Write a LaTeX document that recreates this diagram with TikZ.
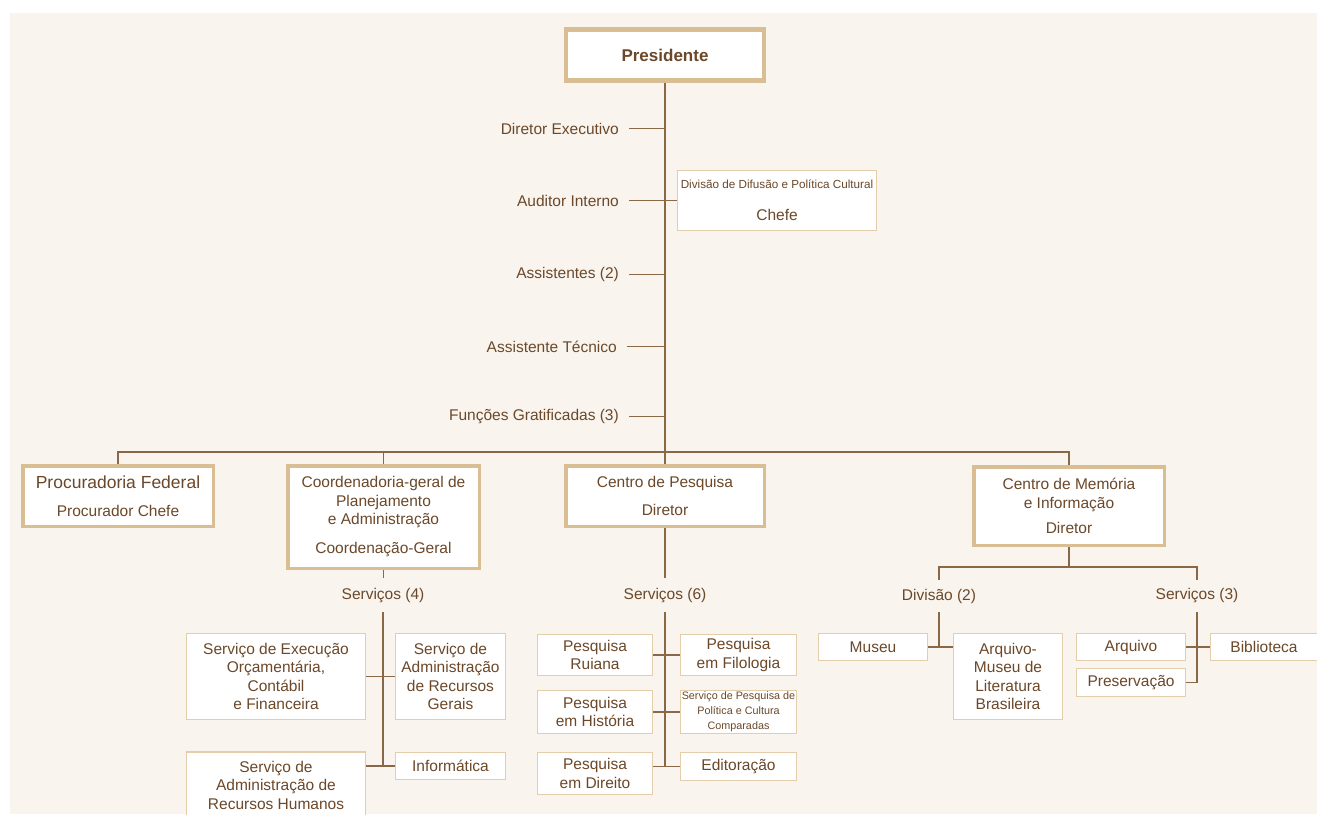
\documentclass[tikz,border=0pt]{standalone}
\usepackage{fontspec}
\setmainfont{Liberation Sans}
\definecolor{bgc}{HTML}{F9F5EE}
\definecolor{tanc}{HTML}{D9BD93}
\definecolor{tanl}{HTML}{E3CDAA}
\definecolor{lnc}{HTML}{8A6845}
\definecolor{txt}{HTML}{6B4829}
\begin{document}
\begin{tikzpicture}[x=1pt,y=-1pt,
  conn/.style={draw=lnc, line width=1.7pt},
  bigbox/.style={draw=tanc, line width=3.5pt, fill=white, inner sep=0pt, align=center, text=txt, font=\fontsize{15.5}{18.5}\selectfont},
  smallbox/.style={draw=tanl, line width=1.3pt, fill=white, inner sep=0pt, align=center, text=txt, font=\fontsize{15.5}{18.5}\selectfont},
  presbox/.style={draw=tanc, line width=4.5pt, fill=white, inner sep=0pt, text=txt, font=\fontsize{17}{20}\selectfont\bfseries},
  lbl/.style={inner sep=0pt, text=txt, font=\fontsize{15.5}{18.5}\selectfont}]
\useasboundingbox (0,0) rectangle (1317,814);
\clip (0,0) rectangle (1317,814);
\fill[white] (0,0) rectangle (1317,814);
\fill[bgc] (10,13) rectangle (1317,814);
\coordinate (bus) at (0,452);

% top
\node[presbox, minimum width=198pt, minimum height=51pt] (pres) at (665,55) {Presidente};
\draw[tanc, line width=1pt] ([xshift=3.6pt,yshift=-3.6pt]pres.north west) rectangle ([xshift=-3.6pt,yshift=3.6pt]pres.south east);

\node[smallbox, minimum width=198.7pt, minimum height=59.7pt] (difusao) at (777,200.5)
  {{\fontsize{11.7}{14}\selectfont Divisão de Difusão e Política Cultural}\\[14pt] Chefe};

\node[lbl, anchor=east] (dexec) at (619,128.5) {Diretor Executivo};
\node[lbl, anchor=east] (audit) at (619,200.5) {Auditor Interno};
\node[lbl, anchor=east] (assis) at (619,274.5) {Assistentes (2)};
\node[lbl, anchor=east] (atec) at (617,346.5) {Assistente Técnico};
\node[lbl, anchor=east] (funcg) at (619,416.5) {Funções Gratificadas (3)};

% level 2
\node[bigbox, minimum width=190.5pt, minimum height=60.5pt] (proc) at (118,496)
  {{\fontsize{17.5}{21}\selectfont Procuradoria Federal}\\[9pt] Procurador Chefe};
\node[bigbox, minimum width=191.5pt, minimum height=102.5pt] (coord) at (383.5,517)
  {Coordenadoria-geral de\\ Planejamento\\ e Administração\\[10.5pt] Coordenação-Geral};
\node[bigbox, minimum width=198.5pt, minimum height=60.5pt] (cpesq) at (665,496)
  {Centro de Pesquisa\\[9.5pt] Diretor};
\node[bigbox, minimum width=190.5pt, minimum height=78.5pt] (cmem) at (1069,506)
  {Centro de Memória\\ e Informação\\[6.5pt] Diretor};

% connectors top
\draw[conn] (pres.south) -- (cpesq.north);
\foreach \n in {dexec,audit,assis,atec,funcg} {
  \draw[conn] ([xshift=10pt]\n.east) -- (\n.east -| pres.south);
}
\draw[conn] (pres.south |- audit.east) -- (difusao.west);
\draw[conn] (proc.north) -- (proc.north |- bus) -- (cmem.north |- bus) -- (cmem.north);
\draw[conn] (coord.north) -- (coord.north |- bus);

% Coordenadoria services
\node[lbl] (serv4) at (383,596) {Serviços (4)};
\node[smallbox, minimum width=178.7pt, minimum height=85.7pt] (seo) at (276,676.5)
  {Serviço de Execução\\ Orçamentária,\\ Contábil\\ e Financeira};
\node[smallbox, minimum width=109.7pt, minimum height=85.7pt] (sarg) at (450.5,676.5)
  {Serviço de\\ Administração\\ de Recursos\\ Gerais};
\node[smallbox, minimum width=178.7pt, minimum height=66pt] (sarh) at (276,785)
  {Serviço de\\ Administração de\\ Recursos Humanos};
\node[smallbox, minimum width=109.7pt, minimum height=26.7pt] (info) at (450.5,766)
  {Informática};
\draw[conn] (coord.south) -- ++(0,8);
\draw[conn] ([yshift=-9pt]serv4.south) -- (serv4.south |- info.west);
\draw[conn] (seo.east) -- (sarg.west);
\draw[conn] (info.west) -- (info.west -| sarh.east);

% Centro de Pesquisa services
\node[lbl] (serv6) at (665,596) {Serviços (6)};
\node[smallbox, minimum width=114.7pt, minimum height=40.7pt] (pruiana) at (595,655) {Pesquisa\\ Ruiana};
\node[smallbox, minimum width=115.7pt, minimum height=40.7pt] (pfilo) at (738.5,655) {Pesquisa\\ em Filologia};
\node[smallbox, minimum width=114.7pt, minimum height=42.7pt] (phist) at (595,712) {Pesquisa\\ em História};
\node[smallbox, minimum width=115.7pt, minimum height=42.7pt, font=\fontsize{10.8}{15}\selectfont] (spp) at (738.5,712)
  {Serviço de Pesquisa de\\ Política e Cultura\\ Comparadas};
\node[smallbox, minimum width=114.7pt, minimum height=41.7pt] (pdir) at (595,773.5) {Pesquisa\\ em Direito};
\node[smallbox, minimum width=115.7pt, minimum height=27.7pt] (edit) at (738.5,766.5) {Editoração};
\draw[conn] (cpesq.south) -- ++(0,50);
\draw[conn] ([yshift=-9pt]serv6.south) -- (serv6.south |- edit.west);
\draw[conn] (pruiana.east) -- (pfilo.west);
\draw[conn] (phist.east) -- (spp.west);
\draw[conn] (edit.west) -- (edit.west -| pdir.east);

% Centro de Memória
\node[lbl] (div2) at (939,596) {Divisão (2)};
\node[lbl] (serv3) at (1197,596) {Serviços (3)};
\coordinate (mbus) at (0,567);
\draw[conn] (cmem.south) -- (cmem.south |- mbus);
\draw[conn] ([yshift=9pt]div2.north) -- (div2.north |- mbus) -- (serv3.north |- mbus) -- ([yshift=9pt]serv3.north);

\node[smallbox, minimum width=108.7pt, minimum height=26.7pt] (museu) at (873,647) {Museu};
\node[smallbox, minimum width=108.7pt, minimum height=85.7pt] (amlb) at (1008,676.5)
  {Arquivo-\\ Museu de\\ Literatura\\ Brasileira};
\draw[conn] ([yshift=-9pt]div2.south) -- (div2.south |- museu.east);
\draw[conn] (museu.east) -- (museu.east -| amlb.west);

\node[smallbox, minimum width=108.7pt, minimum height=26.7pt] (arquivo) at (1131,647) {Arquivo};
\node[smallbox, minimum width=106.7pt, minimum height=26.7pt] (biblio) at (1264,647) {Biblioteca};
\node[smallbox, minimum width=108.7pt, minimum height=27.7pt] (preserv) at (1131,682.5) {Preservação};
\draw[conn] ([yshift=-9pt]serv3.south) -- (serv3.south |- preserv.east);
\draw[conn] (arquivo.east) -- (biblio.west);
\draw[conn] (preserv.east) -- (preserv.east -| serv3.south);
\end{tikzpicture}
\end{document}
